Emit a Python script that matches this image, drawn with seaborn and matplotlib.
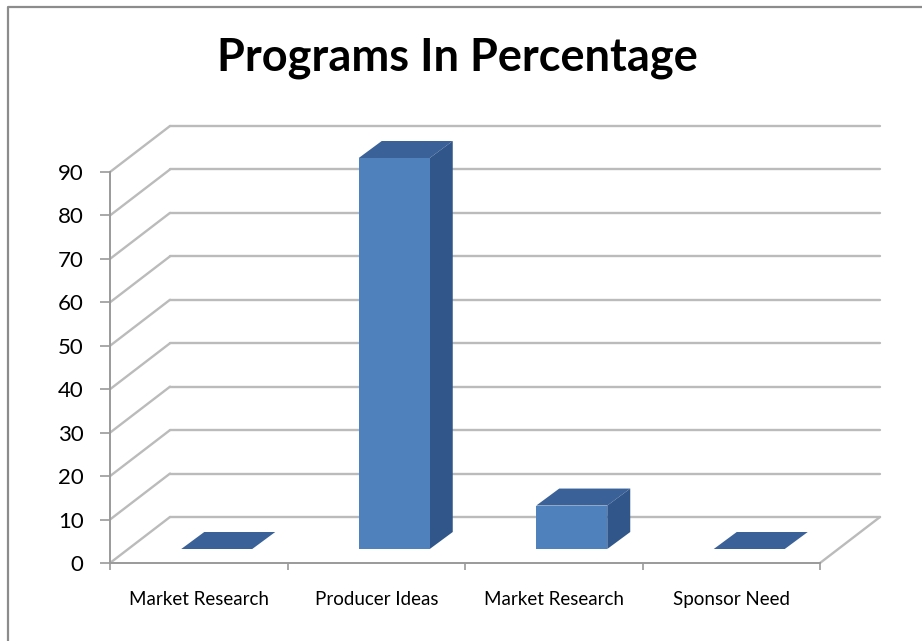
import matplotlib
matplotlib.use("Agg")
import matplotlib.pyplot as plt
import seaborn as sns
import pandas as pd
from matplotlib.patches import Polygon
from matplotlib.lines import Line2D

# ---- data ----
categories = ["Market Research", "Producer Ideas", "Market Research", "Sponsor Need"]
values = [0, 90, 10, 0]
y_ticks = [0, 10, 20, 30, 40, 50, 60, 70, 80, 90]
title = "Programs In Percentage"

# ---- colours ----
FRONT = "#4F81BD"
SIDE = "#31578A"
TOP = "#3A6198"
GRID = "#BBBBBB"
AXIS = "#9A9A9A"

W, H, DPI = 922, 641, 100
sns.set_style("white")
plt.rcParams["font.family"] = ["Lato", "DejaVu Sans"]

fig = plt.figure(figsize=(W / DPI, H / DPI), dpi=DPI)
fig.patch.set_facecolor("white")

# front plane of the 3-D box (pixel geometry)
X0, X1 = 110, 820
Y0, YTOP = 563, 172
ax = fig.add_axes([X0 / W, (H - Y0) / H, (X1 - X0) / W, (Y0 - YTOP) / H])
ax.set_facecolor("none")

df = pd.DataFrame({"slot": range(len(values)), "label": categories, "value": values})
sns.barplot(data=df, x="slot", y="value", width=0.4, color=FRONT, saturation=1,
            edgecolor="none", linewidth=0, ax=ax, zorder=4)
ax.set_xlim(-0.5, len(values) - 0.5)
ax.set_ylim(0, max(y_ticks))

# depth vectors in display pixels
WALL = (60, 46)        # full depth of the floor / back wall
BAR_FRONT = (18, 14)   # bar front face set back from the front plane
BAR_BACK = (41, 31)    # bar back face


def shifted(x, y, d):
    px, py = ax.transData.transform((x, y))
    return tuple(ax.transData.inverted().transform((px + d[0], py + d[1])))


xl, xr = ax.get_xlim()

# back wall gridlines and left wall diagonals
for v in y_ticks:
    b0 = shifted(xl, v, WALL)
    b1 = shifted(xr, v, WALL)
    ax.add_line(Line2D([b0[0], b1[0]], [b0[1], b1[1]], color=GRID, lw=1.7,
                       clip_on=False, zorder=1))
    ax.add_line(Line2D([xl, b0[0]], [v, b0[1]], color=GRID, lw=1.7,
                       clip_on=False, zorder=1))

# right edge of the floor
fr = shifted(xr, 0, WALL)
ax.add_line(Line2D([xr, fr[0]], [0, fr[1]], color=GRID, lw=1.7, clip_on=False, zorder=1))

# extrude each bar: move front face back, add top and side faces
for patch in list(ax.patches):
    x, w, h = patch.get_x(), patch.get_width(), patch.get_height()
    fx, fy = shifted(x, 0, BAR_FRONT)
    patch.set_x(fx)
    patch.set_y(fy)
    patch.set_clip_on(False)
    fl_top = shifted(x, h, BAR_FRONT)
    fr_top = shifted(x + w, h, BAR_FRONT)
    br_top = shifted(x + w, h, BAR_BACK)
    bl_top = shifted(x, h, BAR_BACK)
    fr_bot = shifted(x + w, 0, BAR_FRONT)
    br_bot = shifted(x + w, 0, BAR_BACK)
    ax.add_patch(Polygon([fl_top, fr_top, br_top, bl_top], closed=True,
                         facecolor=TOP, edgecolor="none", clip_on=False, zorder=3))
    if h > 0:
        ax.add_patch(Polygon([fr_bot, fr_top, br_top, br_bot], closed=True,
                             facecolor=SIDE, edgecolor="none", clip_on=False, zorder=3))

# axes styling
sns.despine(ax=ax, top=True, right=True)
for side in ("left", "bottom"):
    ax.spines[side].set_color(AXIS)
    ax.spines[side].set_linewidth(1.4)
    ax.spines[side].set_zorder(2)

ax.set_yticks(y_ticks)
ax.set_yticklabels([str(t) for t in y_ticks], fontsize=16, color="black")
ax.tick_params(axis="y", length=7, width=1.2, color=AXIS, pad=12, left=True)

ax.set_xticks(range(len(categories)))
ax.set_xticklabels(categories, fontsize=13.5, color="black")
ax.set_xticks([i - 0.5 for i in range(len(categories) + 1)], minor=True)
ax.tick_params(axis="x", which="major", length=0, pad=20)
ax.tick_params(axis="x", which="minor", length=5, width=1.2, color=AXIS, bottom=True)
ax.set_xlabel("")
ax.set_ylabel("")

fig.text(457 / W, 1 - 58 / H, title, ha="center", va="center",
         fontsize=32.5, fontweight="bold", color="black")

# chart frame
fig.add_artist(Line2D([8 / W, 8 / W, 1], [0, 1 - 7 / H, 1 - 7 / H],
                      transform=fig.transFigure, color="#8C8C8C", lw=1.6))

fig.savefig("out.png", dpi=DPI, facecolor="white")
